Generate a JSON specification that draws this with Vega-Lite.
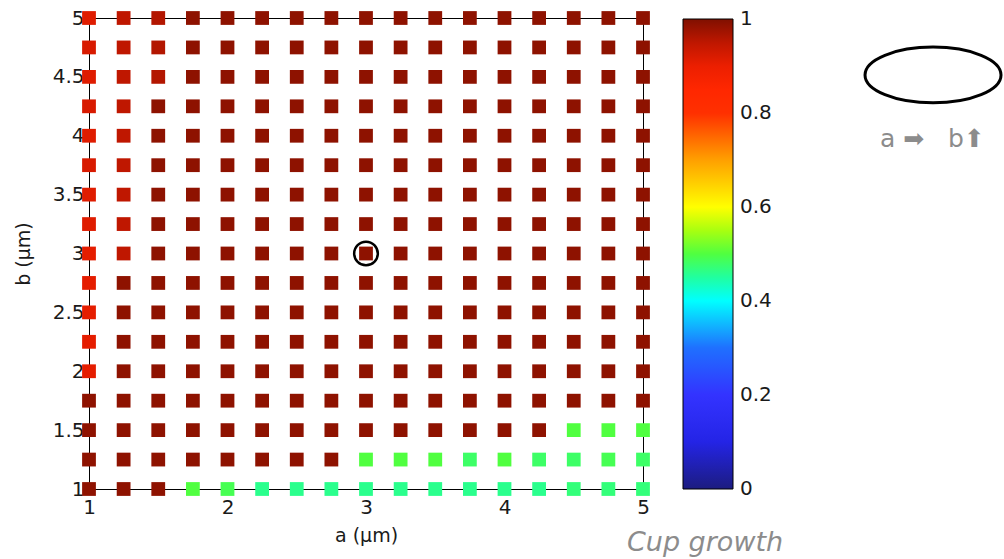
{
  "$schema": "https://vega.github.io/schema/vega-lite/v6.json",
  "width": 554,
  "height": 471,
  "autosize": {"type": "none"},
  "padding": {"left": 89, "top": 18, "right": 361, "bottom": 70},
  "background": "white",
  "config": {
    "view": {"stroke": "black", "strokeWidth": 1},
    "font": "DejaVu Sans",
    "axis": {"labelFont": "DejaVu Sans", "labelFontSize": 20, "labelColor": "#1a1a1a", "titleFont": "DejaVu Sans", "titleFontSize": 19, "titleFontWeight": "normal", "titleColor": "#1a1a1a", "domainColor": "black", "ticks": false, "grid": false, "format": "~g", "labelFlush": false}
  },
  "datasets": {
    "cells": [
      {"a":1,"b":5,"v":0.92},{"a":1.25,"b":5,"v":0.95},{"a":1.5,"b":5,"v":0.96},{"a":1.75,"b":5,"v":0.99},{"a":2,"b":5,"v":0.99},{"a":2.25,"b":5,"v":0.99},{"a":2.5,"b":5,"v":0.99},{"a":2.75,"b":5,"v":0.99},{"a":3,"b":5,"v":0.99},{"a":3.25,"b":5,"v":0.99},{"a":3.5,"b":5,"v":0.99},{"a":3.75,"b":5,"v":0.99},{"a":4,"b":5,"v":0.99},{"a":4.25,"b":5,"v":0.99},{"a":4.5,"b":5,"v":0.99},{"a":4.75,"b":5,"v":0.99},{"a":5,"b":5,"v":0.99},
      {"a":1,"b":4.75,"v":0.93},{"a":1.25,"b":4.75,"v":0.95},{"a":1.5,"b":4.75,"v":0.96},{"a":1.75,"b":4.75,"v":0.99},{"a":2,"b":4.75,"v":0.99},{"a":2.25,"b":4.75,"v":0.99},{"a":2.5,"b":4.75,"v":0.99},{"a":2.75,"b":4.75,"v":0.99},{"a":3,"b":4.75,"v":0.99},{"a":3.25,"b":4.75,"v":0.99},{"a":3.5,"b":4.75,"v":0.99},{"a":3.75,"b":4.75,"v":0.99},{"a":4,"b":4.75,"v":0.99},{"a":4.25,"b":4.75,"v":0.99},{"a":4.5,"b":4.75,"v":0.99},{"a":4.75,"b":4.75,"v":0.99},{"a":5,"b":4.75,"v":0.99},
      {"a":1,"b":4.5,"v":0.92},{"a":1.25,"b":4.5,"v":0.95},{"a":1.5,"b":4.5,"v":0.96},{"a":1.75,"b":4.5,"v":0.99},{"a":2,"b":4.5,"v":0.99},{"a":2.25,"b":4.5,"v":0.99},{"a":2.5,"b":4.5,"v":0.99},{"a":2.75,"b":4.5,"v":0.99},{"a":3,"b":4.5,"v":0.99},{"a":3.25,"b":4.5,"v":0.99},{"a":3.5,"b":4.5,"v":0.99},{"a":3.75,"b":4.5,"v":0.99},{"a":4,"b":4.5,"v":0.99},{"a":4.25,"b":4.5,"v":0.99},{"a":4.5,"b":4.5,"v":0.99},{"a":4.75,"b":4.5,"v":0.99},{"a":5,"b":4.5,"v":0.99},
      {"a":1,"b":4.25,"v":0.93},{"a":1.25,"b":4.25,"v":0.95},{"a":1.5,"b":4.25,"v":0.99},{"a":1.75,"b":4.25,"v":0.99},{"a":2,"b":4.25,"v":0.99},{"a":2.25,"b":4.25,"v":0.99},{"a":2.5,"b":4.25,"v":0.99},{"a":2.75,"b":4.25,"v":0.99},{"a":3,"b":4.25,"v":0.99},{"a":3.25,"b":4.25,"v":0.99},{"a":3.5,"b":4.25,"v":0.99},{"a":3.75,"b":4.25,"v":0.99},{"a":4,"b":4.25,"v":0.99},{"a":4.25,"b":4.25,"v":0.99},{"a":4.5,"b":4.25,"v":0.99},{"a":4.75,"b":4.25,"v":0.99},{"a":5,"b":4.25,"v":0.99},
      {"a":1,"b":4,"v":0.92},{"a":1.25,"b":4,"v":0.95},{"a":1.5,"b":4,"v":0.99},{"a":1.75,"b":4,"v":0.99},{"a":2,"b":4,"v":0.99},{"a":2.25,"b":4,"v":0.99},{"a":2.5,"b":4,"v":0.99},{"a":2.75,"b":4,"v":0.99},{"a":3,"b":4,"v":0.99},{"a":3.25,"b":4,"v":0.99},{"a":3.5,"b":4,"v":0.99},{"a":3.75,"b":4,"v":0.99},{"a":4,"b":4,"v":0.99},{"a":4.25,"b":4,"v":0.99},{"a":4.5,"b":4,"v":0.99},{"a":4.75,"b":4,"v":0.99},{"a":5,"b":4,"v":0.99},
      {"a":1,"b":3.75,"v":0.93},{"a":1.25,"b":3.75,"v":0.95},{"a":1.5,"b":3.75,"v":0.99},{"a":1.75,"b":3.75,"v":0.99},{"a":2,"b":3.75,"v":0.99},{"a":2.25,"b":3.75,"v":0.99},{"a":2.5,"b":3.75,"v":0.99},{"a":2.75,"b":3.75,"v":0.99},{"a":3,"b":3.75,"v":0.99},{"a":3.25,"b":3.75,"v":0.99},{"a":3.5,"b":3.75,"v":0.99},{"a":3.75,"b":3.75,"v":0.99},{"a":4,"b":3.75,"v":0.99},{"a":4.25,"b":3.75,"v":0.99},{"a":4.5,"b":3.75,"v":0.99},{"a":4.75,"b":3.75,"v":0.99},{"a":5,"b":3.75,"v":0.99},
      {"a":1,"b":3.5,"v":0.92},{"a":1.25,"b":3.5,"v":0.95},{"a":1.5,"b":3.5,"v":0.99},{"a":1.75,"b":3.5,"v":0.99},{"a":2,"b":3.5,"v":0.99},{"a":2.25,"b":3.5,"v":0.99},{"a":2.5,"b":3.5,"v":0.99},{"a":2.75,"b":3.5,"v":0.99},{"a":3,"b":3.5,"v":0.99},{"a":3.25,"b":3.5,"v":0.99},{"a":3.5,"b":3.5,"v":0.99},{"a":3.75,"b":3.5,"v":0.99},{"a":4,"b":3.5,"v":0.99},{"a":4.25,"b":3.5,"v":0.99},{"a":4.5,"b":3.5,"v":0.99},{"a":4.75,"b":3.5,"v":0.99},{"a":5,"b":3.5,"v":0.99},
      {"a":1,"b":3.25,"v":0.92},{"a":1.25,"b":3.25,"v":0.95},{"a":1.5,"b":3.25,"v":0.99},{"a":1.75,"b":3.25,"v":0.99},{"a":2,"b":3.25,"v":0.99},{"a":2.25,"b":3.25,"v":0.99},{"a":2.5,"b":3.25,"v":0.99},{"a":2.75,"b":3.25,"v":0.99},{"a":3,"b":3.25,"v":0.99},{"a":3.25,"b":3.25,"v":0.99},{"a":3.5,"b":3.25,"v":0.99},{"a":3.75,"b":3.25,"v":0.99},{"a":4,"b":3.25,"v":0.99},{"a":4.25,"b":3.25,"v":0.99},{"a":4.5,"b":3.25,"v":0.99},{"a":4.75,"b":3.25,"v":0.99},{"a":5,"b":3.25,"v":0.99},
      {"a":1,"b":3,"v":0.91},{"a":1.25,"b":3,"v":0.95},{"a":1.5,"b":3,"v":0.99},{"a":1.75,"b":3,"v":0.99},{"a":2,"b":3,"v":0.99},{"a":2.25,"b":3,"v":0.99},{"a":2.5,"b":3,"v":0.99},{"a":2.75,"b":3,"v":0.99},{"a":3,"b":3,"v":0.99},{"a":3.25,"b":3,"v":0.99},{"a":3.5,"b":3,"v":0.99},{"a":3.75,"b":3,"v":0.99},{"a":4,"b":3,"v":0.99},{"a":4.25,"b":3,"v":0.99},{"a":4.5,"b":3,"v":0.99},{"a":4.75,"b":3,"v":0.99},{"a":5,"b":3,"v":0.99},
      {"a":1,"b":2.75,"v":0.91},{"a":1.25,"b":2.75,"v":0.99},{"a":1.5,"b":2.75,"v":0.99},{"a":1.75,"b":2.75,"v":0.99},{"a":2,"b":2.75,"v":0.99},{"a":2.25,"b":2.75,"v":0.99},{"a":2.5,"b":2.75,"v":0.99},{"a":2.75,"b":2.75,"v":0.99},{"a":3,"b":2.75,"v":0.99},{"a":3.25,"b":2.75,"v":0.99},{"a":3.5,"b":2.75,"v":0.99},{"a":3.75,"b":2.75,"v":0.99},{"a":4,"b":2.75,"v":0.99},{"a":4.25,"b":2.75,"v":0.99},{"a":4.5,"b":2.75,"v":0.99},{"a":4.75,"b":2.75,"v":0.99},{"a":5,"b":2.75,"v":0.99},
      {"a":1,"b":2.5,"v":0.91},{"a":1.25,"b":2.5,"v":0.99},{"a":1.5,"b":2.5,"v":0.99},{"a":1.75,"b":2.5,"v":0.99},{"a":2,"b":2.5,"v":0.99},{"a":2.25,"b":2.5,"v":0.99},{"a":2.5,"b":2.5,"v":0.99},{"a":2.75,"b":2.5,"v":0.99},{"a":3,"b":2.5,"v":0.99},{"a":3.25,"b":2.5,"v":0.99},{"a":3.5,"b":2.5,"v":0.99},{"a":3.75,"b":2.5,"v":0.99},{"a":4,"b":2.5,"v":0.99},{"a":4.25,"b":2.5,"v":0.99},{"a":4.5,"b":2.5,"v":0.99},{"a":4.75,"b":2.5,"v":0.99},{"a":5,"b":2.5,"v":0.99},
      {"a":1,"b":2.25,"v":0.91},{"a":1.25,"b":2.25,"v":0.99},{"a":1.5,"b":2.25,"v":0.99},{"a":1.75,"b":2.25,"v":0.99},{"a":2,"b":2.25,"v":0.99},{"a":2.25,"b":2.25,"v":0.99},{"a":2.5,"b":2.25,"v":0.99},{"a":2.75,"b":2.25,"v":0.99},{"a":3,"b":2.25,"v":0.99},{"a":3.25,"b":2.25,"v":0.99},{"a":3.5,"b":2.25,"v":0.99},{"a":3.75,"b":2.25,"v":0.99},{"a":4,"b":2.25,"v":0.99},{"a":4.25,"b":2.25,"v":0.99},{"a":4.5,"b":2.25,"v":0.99},{"a":4.75,"b":2.25,"v":0.99},{"a":5,"b":2.25,"v":0.99},
      {"a":1,"b":2,"v":0.91},{"a":1.25,"b":2,"v":0.99},{"a":1.5,"b":2,"v":0.99},{"a":1.75,"b":2,"v":0.99},{"a":2,"b":2,"v":0.99},{"a":2.25,"b":2,"v":0.99},{"a":2.5,"b":2,"v":0.99},{"a":2.75,"b":2,"v":0.99},{"a":3,"b":2,"v":0.99},{"a":3.25,"b":2,"v":0.99},{"a":3.5,"b":2,"v":0.99},{"a":3.75,"b":2,"v":0.99},{"a":4,"b":2,"v":0.99},{"a":4.25,"b":2,"v":0.99},{"a":4.5,"b":2,"v":0.99},{"a":4.75,"b":2,"v":0.99},{"a":5,"b":2,"v":0.99},
      {"a":1,"b":1.75,"v":0.99},{"a":1.25,"b":1.75,"v":0.99},{"a":1.5,"b":1.75,"v":0.99},{"a":1.75,"b":1.75,"v":0.99},{"a":2,"b":1.75,"v":0.99},{"a":2.25,"b":1.75,"v":0.99},{"a":2.5,"b":1.75,"v":0.99},{"a":2.75,"b":1.75,"v":0.99},{"a":3,"b":1.75,"v":0.99},{"a":3.25,"b":1.75,"v":0.99},{"a":3.5,"b":1.75,"v":0.99},{"a":3.75,"b":1.75,"v":0.99},{"a":4,"b":1.75,"v":0.99},{"a":4.25,"b":1.75,"v":0.99},{"a":4.5,"b":1.75,"v":0.99},{"a":4.75,"b":1.75,"v":0.99},{"a":5,"b":1.75,"v":0.99},
      {"a":1,"b":1.5,"v":0.99},{"a":1.25,"b":1.5,"v":0.99},{"a":1.5,"b":1.5,"v":0.99},{"a":1.75,"b":1.5,"v":0.99},{"a":2,"b":1.5,"v":0.99},{"a":2.25,"b":1.5,"v":0.99},{"a":2.5,"b":1.5,"v":0.99},{"a":2.75,"b":1.5,"v":0.99},{"a":3,"b":1.5,"v":0.99},{"a":3.25,"b":1.5,"v":0.99},{"a":3.5,"b":1.5,"v":0.99},{"a":3.75,"b":1.5,"v":0.99},{"a":4,"b":1.5,"v":0.99},{"a":4.25,"b":1.5,"v":0.99},{"a":4.5,"b":1.5,"v":0.5},{"a":4.75,"b":1.5,"v":0.5},{"a":5,"b":1.5,"v":0.5},
      {"a":1,"b":1.25,"v":0.99},{"a":1.25,"b":1.25,"v":0.99},{"a":1.5,"b":1.25,"v":0.99},{"a":1.75,"b":1.25,"v":0.99},{"a":2,"b":1.25,"v":0.99},{"a":2.25,"b":1.25,"v":0.99},{"a":2.5,"b":1.25,"v":0.99},{"a":2.75,"b":1.25,"v":0.99},{"a":3,"b":1.25,"v":0.5},{"a":3.25,"b":1.25,"v":0.5},{"a":3.5,"b":1.25,"v":0.5},{"a":3.75,"b":1.25,"v":0.48},{"a":4,"b":1.25,"v":0.5},{"a":4.25,"b":1.25,"v":0.48},{"a":4.5,"b":1.25,"v":0.48},{"a":4.75,"b":1.25,"v":0.49},{"a":5,"b":1.25,"v":0.48},
      {"a":1,"b":1,"v":0.99},{"a":1.25,"b":1,"v":0.99},{"a":1.5,"b":1,"v":0.99},{"a":1.75,"b":1,"v":0.5},{"a":2,"b":1,"v":0.49},{"a":2.25,"b":1,"v":0.46},{"a":2.5,"b":1,"v":0.46},{"a":2.75,"b":1,"v":0.46},{"a":3,"b":1,"v":0.46},{"a":3.25,"b":1,"v":0.46},{"a":3.5,"b":1,"v":0.46},{"a":3.75,"b":1,"v":0.46},{"a":4,"b":1,"v":0.46},{"a":4.25,"b":1,"v":0.46},{"a":4.5,"b":1,"v":0.47},{"a":4.75,"b":1,"v":0.47},{"a":5,"b":1,"v":0.47}
    ],
    "marked": [{"a": 3, "b": 3}],
    "shape": [{"a": 7.094, "b": 4.516}],
    "labels": [
      {"a": 6.711, "b": 3.97, "text": "a ➡\u00a0\u00a0\u00a0b⬆", "kind": "arrow"},
      {"a": 5.448, "b": 0.541, "text": "Cup growth", "kind": "caption"}
    ]
  },
  "layer": [
    {
      "data": {"name": "cells"},
      "mark": {"type": "point", "shape": "square", "filled": true, "size": 190, "opacity": 1, "strokeWidth": 0},
      "encoding": {
        "x": {"field": "a", "type": "quantitative", "scale": {"domain": [1, 5], "nice": false, "zero": false}, "axis": {"values": [1, 2, 3, 4, 5], "title": "a (μm)", "labelPadding": 8, "titlePadding": 9}},
        "y": {"field": "b", "type": "quantitative", "scale": {"domain": [1, 5], "nice": false, "zero": false}, "axis": {"values": [1, 1.5, 2, 2.5, 3, 3.5, 4, 4.5, 5], "title": "b (μm)", "labelPadding": 5, "titlePadding": 19}},
        "color": {
          "field": "v", "type": "quantitative",
          "scale": {
            "domain": [-0.001, 0.1, 0.2, 0.3, 0.4, 0.45, 0.5, 0.55, 0.6, 0.7, 0.8, 0.87, 0.93, 1.001],
            "range": ["#1c1c80", "#2424e6", "#3333ff", "#1f70ff", "#00ffff", "#20ffa0", "#50ff40", "#a8ff10", "#ffff00", "#ffa000", "#ff3000", "#ff2400", "#d81a00", "#801000"],
            "interpolate": "rgb"
          },
          "legend": {
            "orient": "none", "legendX": 594, "legendY": 1, "direction": "vertical",
            "gradientLength": 470, "gradientThickness": 50, "gradientStrokeColor": "black", "gradientStrokeWidth": 1,
            "values": [0, 0.2, 0.4, 0.6, 0.8, 1], "format": "~g", "labelFont": "DejaVu Sans", "labelFontSize": 20, "labelColor": "#1a1a1a", "labelOffset": 7, "labelOverlap": false,
            "title": null, "padding": 0
          }
        }
      }
    },
    {
      "data": {"name": "marked"},
      "mark": {"type": "point", "shape": "circle", "filled": false, "size": 560, "stroke": "black", "strokeWidth": 2.5, "opacity": 1},
      "encoding": {"x": {"field": "a", "type": "quantitative"}, "y": {"field": "b", "type": "quantitative"}}
    },
    {
      "data": {"name": "shape"},
      "mark": {"type": "point", "shape": "M-1,0A1,0.41,0,1,0,1,0A1,0.41,0,1,0,-1,0Z", "filled": false, "size": 18496, "stroke": "black", "strokeWidth": 3, "opacity": 1, "clip": false},
      "encoding": {"x": {"field": "a", "type": "quantitative"}, "y": {"field": "b", "type": "quantitative"}}
    },
    {
      "data": {"name": "labels"},
      "transform": [{"filter": "datum.kind == 'arrow'"}],
      "mark": {"type": "text", "align": "left", "baseline": "middle", "font": "DejaVu Sans", "fontSize": 25, "fontWeight": "normal", "color": "#8c8c8c", "clip": false},
      "encoding": {"x": {"field": "a", "type": "quantitative"}, "y": {"field": "b", "type": "quantitative"}, "text": {"field": "text"}}
    },
    {
      "data": {"name": "labels"},
      "transform": [{"filter": "datum.kind == 'caption'"}],
      "mark": {"type": "text", "align": "center", "baseline": "middle", "font": "DejaVu Sans", "fontSize": 27, "fontStyle": "italic", "color": "#8c8c8c", "clip": false},
      "encoding": {"x": {"field": "a", "type": "quantitative"}, "y": {"field": "b", "type": "quantitative"}, "text": {"field": "text"}}
    }
  ]
}
